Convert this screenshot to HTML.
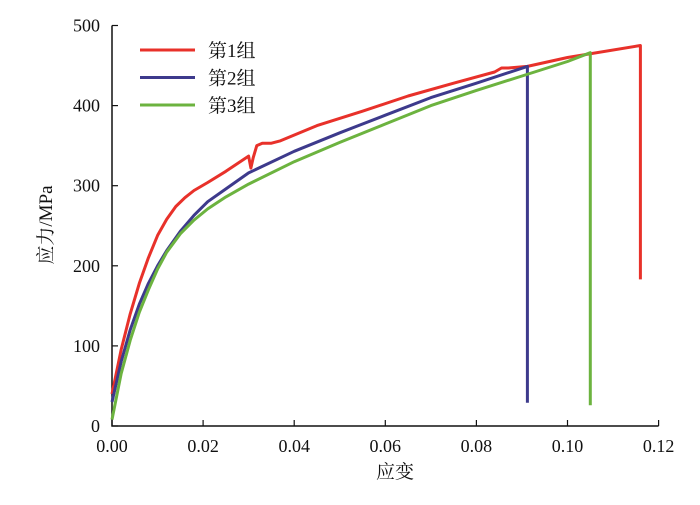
<!DOCTYPE html>
<html><head><meta charset="utf-8"><style>
body{margin:0;background:#fff}
svg text{font-family:"Liberation Serif","Noto Serif CJK SC",serif;fill:#111}
</style></head><body>
<svg width="700" height="500" xmlns="http://www.w3.org/2000/svg">
<g id="axes"></g>
<g id="series"></g>
<g id="legend"></g>
<text x="395" y="478" font-size="19" text-anchor="middle">应变</text>
<text transform="translate(52,225) rotate(-90)" font-size="19" text-anchor="middle">应力/MPa</text>
</svg>
<script>
const xTicks=[0,0.02,0.04,0.06,0.08,0.10,0.12];
const xTickLabels=["0.00","0.02","0.04","0.06","0.08","0.10","0.12"];
const yTicks=[0,100,200,300,400,500];
const seriesNames=["第1组","第2组","第3组"];
const seriesColors=["#e8312a","#3d3a8c","#6cb33f"];
const s1Strain=[0,0.002,0.004,0.006,0.008,0.010,0.012,0.014,0.016,0.018,0.021,0.025,0.030,0.0305,0.031,0.0318,0.033,0.035,0.037,0.045,0.055,0.065,0.075,0.084,0.0855,0.087,0.0912,0.10,0.116,0.116];
const s1Stress=[40,95,140,178,210,238,258,274,285,294,304,318,337,322,335,350,353,353,356,375,393,412,428,442,447,447,449,460,475,183];
const s2Strain=[0,0.002,0.004,0.006,0.008,0.010,0.012,0.015,0.018,0.021,0.025,0.030,0.040,0.050,0.060,0.070,0.080,0.0912,0.0912];
const s2Stress=[30,80,120,152,178,200,219,243,263,280,296,316,343,366,388,410,428,449,29];
const s3Strain=[0,0.002,0.004,0.006,0.008,0.010,0.012,0.015,0.018,0.021,0.025,0.030,0.040,0.050,0.060,0.070,0.080,0.090,0.100,0.105,0.105];
const s3Stress=[8,65,107,142,170,196,217,240,257,271,286,302,330,354,377,400,419,437,455,466,26];
const NS="http://www.w3.org/2000/svg";
const X=v=>112+v/0.02*91.1, Y=v=>426-v*0.801;
function mk(t,a,p){const e=document.createElementNS(NS,t);for(const k in a)e.setAttribute(k,a[k]);p.appendChild(e);return e;}
const ax=document.getElementById('axes');
let l=mk('path',{d:`M${X(0)},${Y(500)}V${Y(0)}H${X(0.12)}`,stroke:'#111','stroke-width':1.5,fill:'none'},ax);


xTicks.forEach((v,i)=>{
 const t=mk('line',{x1:X(v),x2:X(v),y1:Y(0),y2:Y(0)-6,stroke:'#111','stroke-width':1.2},ax);
 
 
 const tx=mk('text',{x:X(v),y:452,'font-size':18,'text-anchor':'middle'},ax);tx.textContent=xTickLabels[i];
 
 
});
yTicks.forEach(v=>{
 const t=mk('line',{x1:X(0),x2:X(0)+6,y1:Y(v),y2:Y(v),stroke:'#111','stroke-width':1.2},ax);
 
 
 const tx=mk('text',{x:100,y:Y(v)+6,'font-size':18,'text-anchor':'end'},ax);tx.textContent=v;
 
 
});
const sg=document.getElementById('series');
[[s1Strain,s1Stress],[s2Strain,s2Stress],[s3Strain,s3Stress]].forEach((s,i)=>{
 const d=s[0].map((x,j)=>(j?'L':'M')+X(x).toFixed(1)+','+Y(s[1][j]).toFixed(1)).join('');
 const p=mk('path',{d:d,stroke:seriesColors[i],'stroke-width':3,fill:'none','stroke-linejoin':'round'},sg);
 
 
});
const lg=document.getElementById('legend');
seriesNames.forEach((n,i)=>{
 const y=50+i*27.5;
 const ln=mk('line',{x1:140,x2:195,y1:y,y2:y,stroke:seriesColors[i],'stroke-width':3},lg);
 
 
 const tx=mk('text',{x:208,y:y+7,'font-size':19},lg);tx.textContent=n;
 
 
});
</script>
</body></html>
